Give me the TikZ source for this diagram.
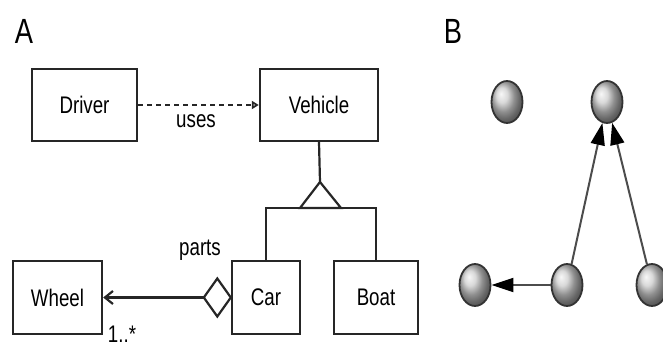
\documentclass[tikz,border=0pt]{standalone}
\usepackage{fontspec}
\setmainfont[FakeStretch=0.78]{Liberation Sans}
\usetikzlibrary{arrows.meta,shapes.geometric}
\tikzset{
  classbox/.style={draw=black!85, line width=2.4pt, fill=white, inner sep=0pt,
                   font=\fontsize{24}{28}\selectfont},
  lbl/.style={font=\fontsize{24}{28}\selectfont, inner sep=0pt},
  panel/.style={font=\fontsize{35}{40}\selectfont, inner sep=0pt},
  conn/.style={draw=black!85, line width=2.2pt},
  sphere/.style={ellipse, draw=black!80, line width=1.8pt, shading=ball,
                 ball color=gray!40, minimum width=31pt, minimum height=42pt, inner sep=0pt},
  link/.style={draw=black!70, line width=2pt, -{Triangle[length=22pt,width=14pt,black]}}
}
\begin{document}
\begin{tikzpicture}[x=1pt, y=-1pt]
\useasboundingbox (0,0) rectangle (663,347);

% Panel A: class diagram
\node[panel] (la) at (24,31) {A};
\node[classbox, minimum width=105pt, minimum height=72pt] (driver) at (84.5,105) {Driver};
\node[classbox, minimum width=118pt, minimum height=72pt] (vehicle) at (319,105) {Vehicle};
\node[classbox, minimum width=68pt, minimum height=73pt] (car) at (266,297.5) {Car};
\node[classbox, minimum width=84pt, minimum height=73pt] (boat) at (376,297.5) {Boat};
\node[classbox, minimum width=89pt, minimum height=73pt] (wheel) at (57.5,297.5) {Wheel};

% dependency
\draw[conn, dash pattern=on 5pt off 4pt, -{Triangle[open, length=7pt, width=8pt]}] (driver) -- (vehicle);
\node[lbl] (uses) at (196,121) {uses};

% generalization
\coordinate (gapex) at (320,182);
\coordinate (gbase) at (320,208);
\draw[conn] (vehicle.south) -- (gapex);
\draw[conn] (car.north) |- (gbase) -| (boat.north);
\draw[conn, fill=white, line join=miter] (gapex) -- ++(-20,26) -- ++(41,0) -- cycle;

% aggregation
\coordinate (aggtip) at ([xshift=-27pt]car.west);
\draw[conn, -{Straight Barb[length=8pt, width=13pt]}] (aggtip) -- (wheel.east);
\draw[conn, fill=white] (car.west) -- ++(-13.5,-19) -- (aggtip) -- ++(13.5,19) -- cycle;
\node[lbl] (parts) at (200,250) {parts};
\node[lbl] (mult) at (122,334) {1..*};

% Panel B: graph
\node[panel] (lb) at (453,31) {B};
\node[sphere] (n1) at (507,102) {};
\node[sphere] (n2) at (607,102) {};
\node[sphere] (n3) at (475,285) {};
\node[sphere] (n4) at (567,285) {};
\node[sphere] (n5) at (652,285) {};
\draw[link] (n4) -- (n2);
\draw[link] (n5) -- (n2);
\draw[link] (n4) -- (n3);
\end{tikzpicture}
\end{document}
